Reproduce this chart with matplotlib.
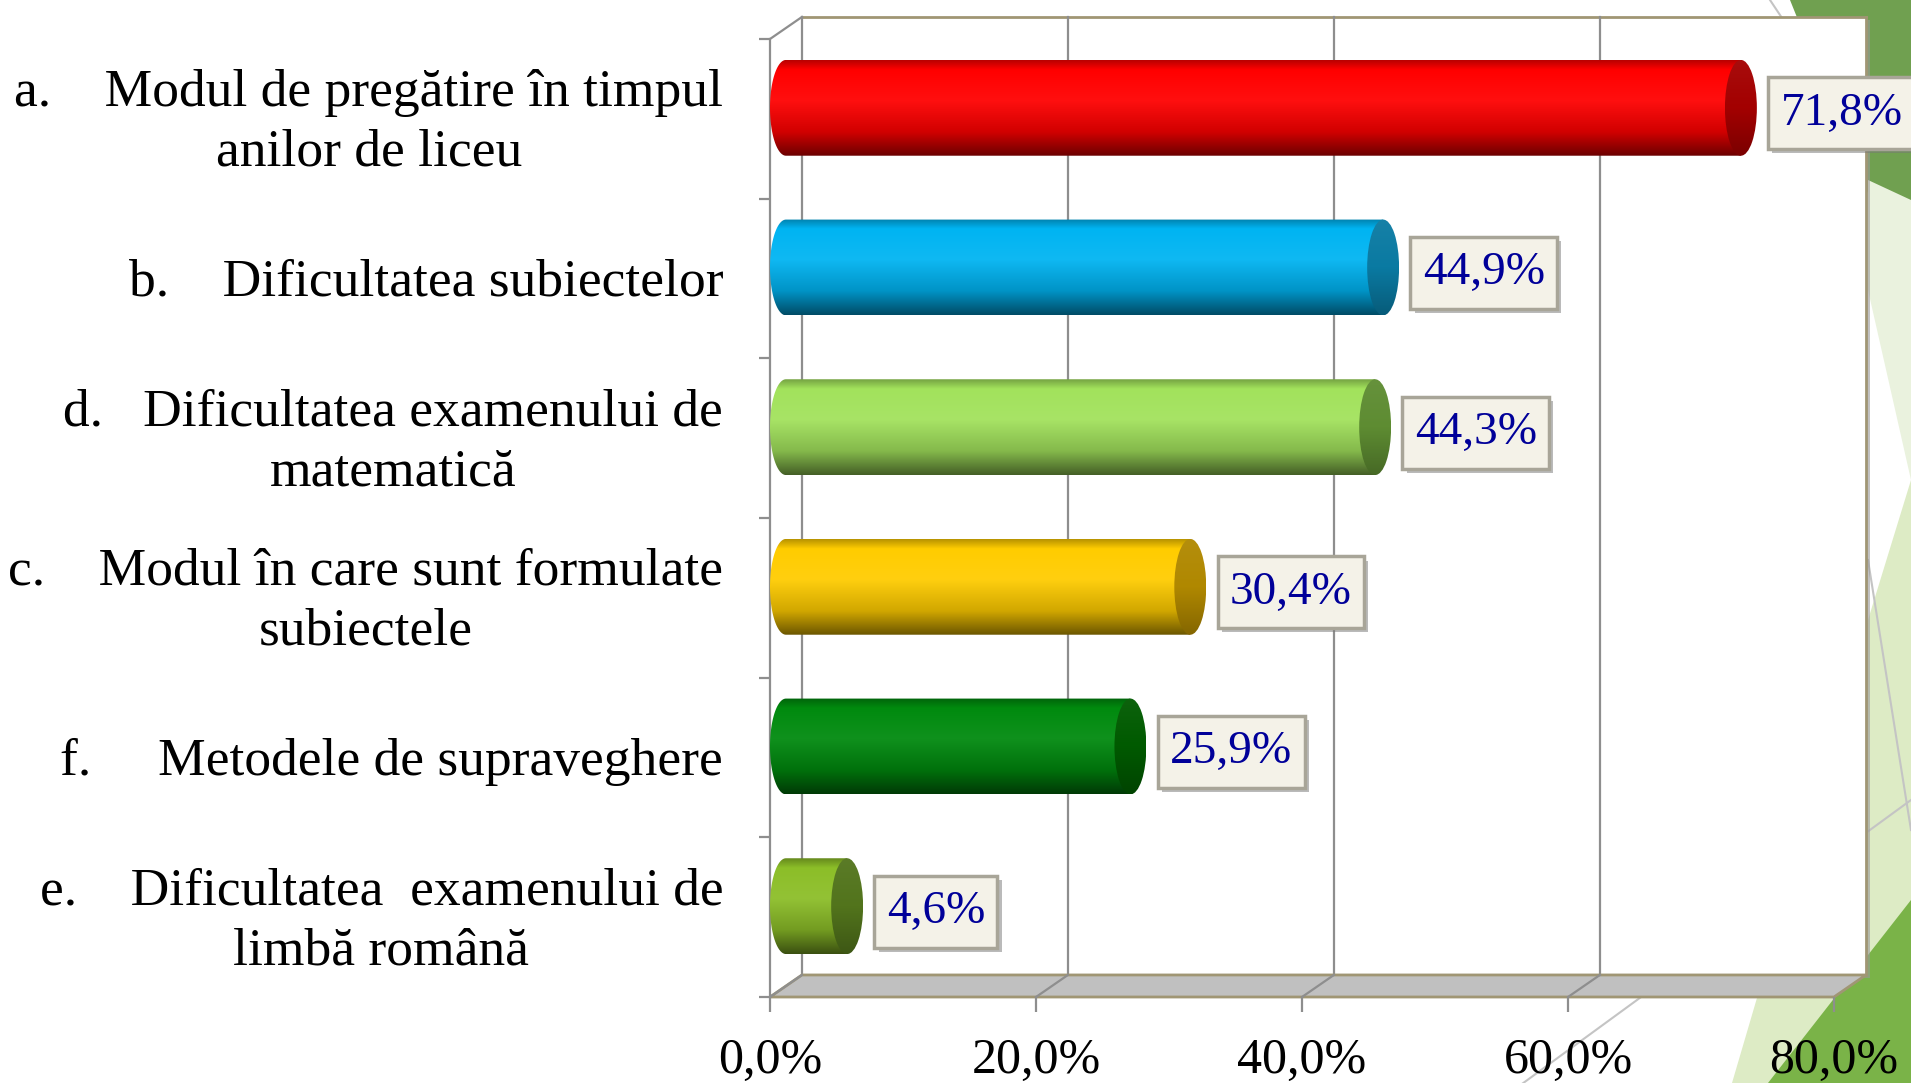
import numpy as np
import matplotlib.pyplot as plt
from matplotlib.colors import LinearSegmentedColormap, to_rgb
from matplotlib.patches import Polygon, Ellipse, PathPatch
from matplotlib.path import Path
from matplotlib.lines import Line2D
import matplotlib.patheffects as pe

plt.rcParams['font.family'] = ['Liberation Serif', 'DejaVu Serif']

# data (top to bottom, as in the slide)
categories = [
    "a.    Modul de pregătire în timpul\nanilor de liceu",
    "b.    Dificultatea subiectelor",
    "d.   Dificultatea examenului de\nmatematică",
    "c.    Modul în care sunt formulate\nsubiectele",
    "f.     Metodele de supraveghere",
    "e.    Dificultatea  examenului de\nlimbă română",
]
values = [71.8, 44.9, 44.3, 30.4, 25.9, 4.6]
bar_colors = ['#FF0000', '#00B4F2', '#A2E25C', '#FFCC00', '#008A0E', '#8CBE28']
cap_colors = ['#A30000', '#0A7AA2', '#5E8C32', '#B08800', '#005A00', '#52741C']
x_ticks = [0, 20, 40, 60, 80]
x_tick_labels = ['0,0%', '20,0%', '40,0%', '60,0%', '80,0%']

W, H = 1911, 1083
DX, DY = 2.4, -0.138      # 3d depth offset (data units)
BH, EW = 0.60, 1.2        # cylinder height, cap half width
GRID = '#8E8E8E'
TAN = '#A09674'


def mix(c, target, f):
    c = np.array(to_rgb(c))
    if target == 0:
        return tuple(c * f)
    return tuple(c + (1 - c) * f)


def px(x, y):
    return (x / W, 1 - y / H)


def label_box(x0, y0, width, height, mutation_size):
    # wider horizontal than vertical padding, like the excel labels
    padx, pady = 0.26 * mutation_size, 0.31 * mutation_size
    return Path([(x0 - padx, y0 - pady), (x0 + width + padx, y0 - pady),
                 (x0 + width + padx, y0 + height + pady), (x0 - padx, y0 + height + pady),
                 (x0 - padx, y0 - pady)], closed=True)


fig = plt.figure(figsize=(W / 100, H / 100), dpi=100)
fig.patch.set_facecolor('white')

# slide background decoration
deco = [
    ('#70A050', [(1790, 0), (1911, 0), (1911, 300)]),
    ('#EAF2DE', [(1868, 180), (1911, 200), (1911, 480), (1868, 290)]),
    ('#DDEBC5', [(1732, 1083), (1868, 620), (1911, 480), (1911, 1083)]),
    ('#7AB348', [(1768, 1083), (1911, 900), (1911, 1083)]),
]
for col, pts in deco:
    fig.add_artist(Polygon([px(*p) for p in pts], closed=True, facecolor=col,
                           edgecolor='none', transform=fig.transFigure, zorder=-5))
for (xa, ya), (xb, yb) in [((1500, 1100), (1911, 800)), ((1868, 560), (1911, 830)),
                           ((1770, 0), (1782, 18))]:
    fig.add_artist(Line2D([xa / W, xb / W], [1 - ya / H, 1 - yb / H], color='#C4C4C4',
                          lw=1.5, transform=fig.transFigure, zorder=-4))

ax = fig.add_axes([770 / W, 1 - 997 / H, 1064 / W, 958 / H])
ax.set_facecolor('none')
n = len(values)
top, bot = -0.5, n - 0.5

# side wall, back wall, floor
ax.add_patch(Polygon([(0, top), (DX, top + DY), (DX, bot + DY), (0, bot)],
                     facecolor='white', edgecolor='none', clip_on=False, zorder=0))
ax.add_patch(Polygon([(DX, top + DY), (80 + DX, top + DY), (80 + DX, bot + DY), (DX, bot + DY)],
                     facecolor='white', edgecolor='none', clip_on=False, zorder=0,
                     path_effects=[pe.SimplePatchShadow(offset=(3, -2), shadow_rgbFace='#999999', alpha=0.6),
                                   pe.Normal()]))
ax.plot([DX, 80 + DX], [top + DY, top + DY], color=TAN, lw=2, clip_on=False, zorder=1)
ax.plot([80 + DX, 80 + DX], [top + DY, bot + DY], color=TAN, lw=2, clip_on=False, zorder=1)
ax.plot([DX, DX], [top + DY, bot + DY], color=GRID, lw=1.6, clip_on=False, zorder=1)
ax.plot([0, DX], [top, top + DY], color=GRID, lw=1.6, clip_on=False, zorder=1)
for t in x_ticks[1:-1]:
    ax.plot([t + DX, t + DX], [top + DY, bot + DY], color=GRID, lw=1.6, clip_on=False, zorder=1)
ax.add_patch(Polygon([(0, bot), (80, bot), (80 + DX, bot + DY), (DX, bot + DY)],
                     facecolor='#C0C0C0', edgecolor=TAN, lw=2, clip_on=False, zorder=1.5))
for t in x_ticks[:-1]:
    ax.plot([t, t + DX], [bot, bot + DY], color=GRID, lw=1.6, clip_on=False, zorder=1.6)

# cylinders
grad = np.linspace(0, 1, 256).reshape(-1, 1)
for i, (v, c, cc) in enumerate(zip(values, bar_colors, cap_colors)):
    cy = i + DY / 2
    x0 = DX / 2
    x1 = v + DX / 2
    th = np.linspace(np.pi / 2, 3 * np.pi / 2, 60)
    verts = list(zip(x0 + EW * np.cos(th), cy + BH / 2 * np.sin(th)))
    verts += [(x1, cy - BH / 2), (x1, cy + BH / 2), verts[0]]
    body = PathPatch(Path(verts), transform=ax.transData)
    cmap = LinearSegmentedColormap.from_list('b', [
        (0, mix(c, 0, 0.72)), (0.1, c), (0.42, mix(c, 1, 0.06)),
        (0.75, mix(c, 0, 0.82)), (1, mix(c, 0, 0.42))])
    im = ax.imshow(grad, cmap=cmap, extent=(x0 - EW, x1, cy + BH / 2, cy - BH / 2),
                   origin='upper', aspect='auto', interpolation='bilinear', zorder=3)
    im.set_clip_path(body)
    cap = Ellipse((x1, cy), 2 * EW, BH, transform=ax.transData)
    cmap2 = LinearSegmentedColormap.from_list('c', [
        (0, mix(cc, 1, 0.05)), (0.5, cc), (1, mix(cc, 0, 0.75))])
    im2 = ax.imshow(grad, cmap=cmap2, extent=(x1 - EW, x1 + EW, cy + BH / 2, cy - BH / 2),
                    origin='upper', aspect='auto', interpolation='bilinear', zorder=3.5)
    im2.set_clip_path(cap)

    t = ax.annotate(f"{v:.1f}%".replace('.', ','), xy=(x1 + EW, i + DY / 4), xytext=(17, 0),
                    textcoords='offset points', ha='left', va='center', fontsize=34,
                    color='#000099', zorder=6, annotation_clip=False,
                    bbox=dict(boxstyle=label_box, fc='#F4F2E8', ec='#A8A598', lw=2.5))
    t.get_bbox_patch().set_path_effects([
        pe.SimplePatchShadow(offset=(3, -3), shadow_rgbFace='#777777', alpha=0.5), pe.Normal()])

# category labels, right aligned left of the axis
for i, lab in enumerate(categories):
    ax.text(-0.044, i + 0.025, lab, transform=ax.get_yaxis_transform(), ha='right', va='center',
            multialignment='center', linespacing=1.32, fontsize=38.5, color='black')

ax.set_xlim(0, 80)
ax.set_ylim(bot, top)
for s in ['top', 'right', 'bottom']:
    ax.spines[s].set_visible(False)
ax.spines['left'].set_color(GRID)
ax.spines['left'].set_linewidth(1.6)

ax.set_xticks(x_ticks, x_tick_labels)
ax.tick_params(axis='x', length=11, width=1.6, color=GRID, pad=18, labelsize=36)
ax.set_yticks(np.arange(top, bot + 1, 1))
ax.set_yticklabels([])
ax.tick_params(axis='y', which='major', length=8, width=1.6, color=GRID)

fig.savefig('out.png', dpi=100)
